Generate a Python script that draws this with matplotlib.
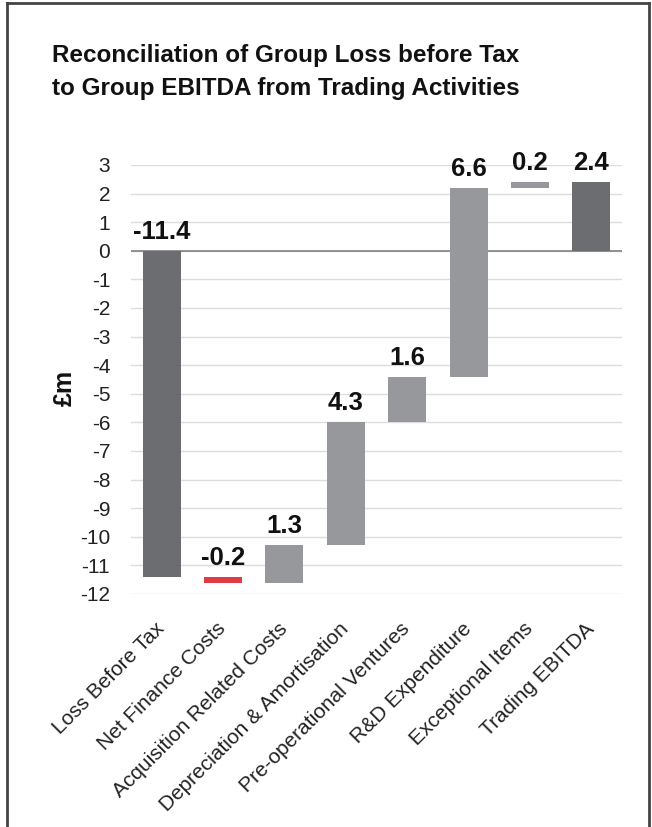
import matplotlib
matplotlib.use("Agg")
import matplotlib.pyplot as plt
from matplotlib.lines import Line2D
import numpy as np

categories = ["Loss Before Tax", "Net Finance Costs", "Acquisition Related Costs",
              "Depreciation & Amortisation", "Pre-operational Ventures",
              "R&D Expenditure", "Exceptional Items", "Trading EBITDA"]
changes = [-11.4, -0.2, 1.3, 4.3, 1.6, 6.6, 0.2, 2.4]
is_total = [True, False, False, False, False, False, False, True]
y_ticks = list(range(3, -13, -1))

DARK = "#6c6d70"
LIGHT = "#97989b"
RED = "#e03c46"

plt.rcParams["font.family"] = ["Liberation Sans", "DejaVu Sans"]

fig = plt.figure(figsize=(6.52, 8.27), dpi=100)
ax = fig.add_axes([0.2009, 0.2818, 0.7531, 0.5187])

# waterfall: running total gives each floating bar its base
bottoms, heights, colors = [], [], []
running = 0.0
for val, total in zip(changes, is_total):
    if total:
        bottoms.append(0.0)
        heights.append(val)
        colors.append(DARK)
        running = val
    else:
        bottoms.append(running)
        heights.append(val)
        colors.append(RED if val < 0 else LIGHT)
        running += val

x = np.arange(len(categories))
ax.bar(x, heights, bottom=bottoms, width=0.62, color=colors, zorder=3)

for xi, b, h, val in zip(x, bottoms, heights, changes):
    top = max(b, b + h)
    ax.annotate(f"{val:.1f}", (xi, top), xytext=(0, 5), textcoords="offset points",
                ha="center", va="bottom", fontsize=18.5, fontweight="bold", color="#111111")

ax.set_ylim(-12, 3)
ax.set_xlim(-0.5, len(categories) - 0.5)
ax.set_yticks(y_ticks)
ax.set_yticklabels([str(t) for t in y_ticks], fontsize=15, color="#222222")
ax.yaxis.grid(True, color="#dcdcdc", linewidth=1.0, zorder=0)
ax.axhline(0, color="#808080", linewidth=1.2, zorder=2)
ax.tick_params(axis="y", length=0, pad=15)
ax.tick_params(axis="x", length=0, pad=23)
ax.set_xticks(x)
ax.set_xticklabels(categories, rotation=45, ha="right", va="center",
                   rotation_mode="anchor", fontsize=15, color="#222222")
for s in ax.spines.values():
    s.set_visible(False)

fig.text(65 / 652, 1 - 388 / 827, "£m", rotation=90, ha="center", va="center",
         fontsize=18, fontweight="bold", color="#111111")

title_kw = dict(ha="left", va="baseline", fontsize=17.5, fontweight="bold", color="#111111")
fig.text(52 / 652, 1 - 62 / 827, "Reconciliation of Group Loss before Tax", **title_kw)
fig.text(52 / 652, 1 - 95 / 827, "to Group EBITDA from Trading Activities", **title_kw)

# outer frame (top, left, right)
frame_kw = dict(color="#444444", linewidth=2.0, transform=fig.transFigure)
fig.add_artist(Line2D([7 / 652, 7 / 652], [0, 1 - 3 / 827], **frame_kw))
fig.add_artist(Line2D([649 / 652, 649 / 652], [0, 1 - 3 / 827], **frame_kw))
fig.add_artist(Line2D([7 / 652, 649 / 652], [1 - 3 / 827, 1 - 3 / 827], **frame_kw))

fig.savefig("out.png", dpi=100)
